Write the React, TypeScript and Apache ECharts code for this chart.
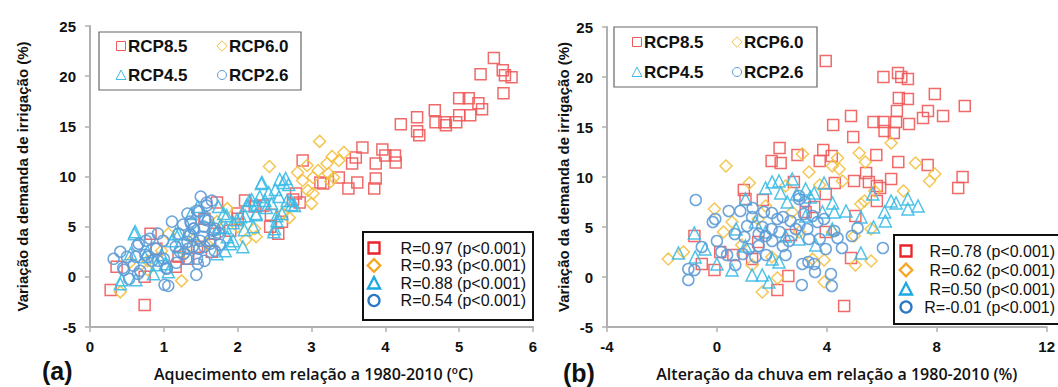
import React, { useEffect, useRef } from "react";
import * as echarts from "echarts";

const scenarioNames = ["RCP8.5", "RCP6.0", "RCP4.5", "RCP2.6"];
const scatterColors = ["#f05a5a", "#f3c040", "#3cbbe6", "#5e9bd6"];
const legendColors = ["#e8262a", "#f5a623", "#1ba9e0", "#2b78c4"];
const corrA = ["R=0.97 (p<0.001)", "R=0.93 (p<0.001)", "R=0.88 (p<0.001)", "R=0.54 (p<0.001)"];
const corrB = ["R=0.78 (p<0.001)", "R=0.62 (p<0.001)", "R=0.50 (p<0.001)", "R=-0.01 (p<0.001)"];
const yTicks = [-5, 0, 5, 10, 15, 20, 25];
const xTicksA = [0, 1, 2, 3, 4, 5, 6];
const xTicksB = [-4, 0, 4, 8, 12];
const titleY = "Variação da demanda de irrigação (%)";
const titleXA = "Aquecimento em relação a 1980-2010 (ºC)";
const titleXB = "Alteração da chuva em relação a 1980-2010 (%)";

// Panel (a): warming (ºC) vs change of irrigation demand (%)
const a85 = [
  [0.28, -1.3], [0.74, -2.8], [0.36, 1.0], [0.82, 4.3], [0.74, 0], [1.16, 1.0], [1.33, 1.8],
  [1.72, 7.4], [1.69, 4.3], [2.0, 6.3], [2.1, 7.6], [2.23, 7.0], [2.44, 5.0], [2.55, 4.3],
  [2.79, 8.3], [2.84, 7.4], [2.88, 11.6], [3.12, 9.4], [3.16, 9.3], [3.37, 9.9], [3.5, 8.8],
  [3.55, 11.3], [3.6, 11.9], [3.62, 9.4], [3.69, 12.9], [3.87, 11.3], [3.87, 9.8], [3.85, 8.8],
  [3.96, 12.7], [4.0, 12.1], [4.13, 12.1], [4.14, 11.4], [4.21, 15.2], [4.43, 15.9], [4.43, 14.5],
  [4.46, 14.1], [4.67, 16.6], [4.68, 15.4], [4.8, 15.4], [4.82, 15.1], [4.96, 15.4], [5.0, 17.8],
  [5.0, 16.1], [5.13, 17.8], [5.15, 16.1], [5.26, 17.3], [5.31, 16.7], [5.29, 20.2], [5.47, 21.8],
  [5.59, 20.6], [5.62, 20.1], [5.71, 19.9], [5.6, 18.3], [0.9, 2.8], [1.45, 3.0], [1.65, 2.5],
  [1.2, 2.0], [1.55, 5.8], [1.9, 4.6], [2.0, 5.8], [2.45, 6.2], [2.6, 5.5], [2.35, 7.1], [2.75, 7.7]
];
const a60 = [
  [0.41, -1.5], [1.24, -0.4], [0.78, 0.7], [1.06, 4.3], [0.97, 2.6], [1.4, 3.7], [1.86, 6.8],
  [2.25, 4.0], [2.11, 3.7], [2.0, 5.0], [2.43, 11.0], [2.7, 5.9], [2.81, 10.4], [2.94, 11.1],
  [2.95, 8.6], [3.0, 7.3], [3.02, 8.3], [3.11, 13.5], [3.09, 10.6], [3.21, 11.3], [3.23, 10.3],
  [3.28, 12.0], [3.3, 9.9], [3.37, 11.6], [3.44, 12.4], [3.26, 9.5], [2.88, 9.6], [2.23, 4.8],
  [1.72, 5.5], [0.78, 1.6], [1.58, 3.3], [2.61, 6.3], [3.02, 9.9], [1.3, 2.4], [0.55, 1.5]
];
const a45 = [
  [0.6, 4.3], [0.41, -0.7], [0.62, -0.3], [0.86, 0.3], [1.06, 0.5], [0.55, 2.3], [0.74, 2.0],
  [0.97, 2.2], [1.2, 3.0], [1.16, 4.3], [1.37, 6.3], [1.46, 7.0], [1.58, 6.0], [1.72, 2.3],
  [1.76, 5.0], [1.86, 4.0], [1.9, 3.3], [2.07, 3.0], [2.04, 6.0], [2.09, 4.7], [2.21, 5.0],
  [2.25, 6.3], [2.32, 9.3], [2.37, 7.6], [2.42, 8.4], [2.46, 7.3], [2.51, 8.7], [2.56, 8.0],
  [2.49, 4.5], [2.6, 6.3], [2.62, 9.4], [2.65, 9.8], [2.67, 7.6], [2.72, 7.6], [2.77, 7.1],
  [2.16, 7.6], [1.81, 6.3], [1.02, 1.3], [0.78, 2.5], [1.39, 4.3], [0.61, 4.5], [0.43, -0.3],
  [0.9, 1.2], [1.2, 4.3], [1.11, 3.6], [1.74, 7.0], [1.85, 6.1], [1.94, 5.4], [1.94, 3.6],
  [2.33, 9.4], [2.57, 9.7], [2.69, 9.2], [2.3, 8.0], [2.19, 7.7], [2.12, 7.1], [2.26, 7.2],
  [2.39, 6.9], [2.73, 7.2], [2.1, 6.1], [2.25, 6.2], [2.53, 6.1], [1.99, 5.7], [1.84, 4.9],
  [1.68, 4.8], [1.83, 2.6], [2.5, 4.8], [2.53, 5.6]
];
const a26 = [
  [0.32, 1.8], [0.41, 2.5], [0.46, 0.7], [0.53, -0.2], [0.62, 2.0], [0.64, 3.1], [0.65, 0.3],
  [0.76, 3.6], [0.78, 2.0], [0.9, 2.8], [0.92, 4.3], [0.99, 3.6], [1.0, 1.8], [1.01, -0.8],
  [1.06, -0.9], [1.04, 0.8], [1.11, 5.5], [1.16, 3.0], [1.2, 4.3], [1.27, 2.3], [1.32, 6.3],
  [1.34, 4.1], [1.37, 5.3], [1.39, 3.0], [1.41, 4.8], [1.44, 0.2], [1.46, 1.3], [1.48, 2.8],
  [1.48, 6.5], [1.5, 8.0], [1.53, 4.0], [1.55, 1.6], [1.58, 7.1], [1.6, 5.6], [1.62, 3.6],
  [1.65, 7.6], [1.67, 4.6], [1.55, 3.0], [1.32, 3.5], [1.76, 3.2], [0.92, 1.6], [1.58, 7.4],
  [1.45, 6.6], [1.56, 5.7], [1.26, 5.2], [1.36, 5.5], [1.4, 4.8], [1.54, 5.0], [0.81, 3.8],
  [0.66, 3.3], [0.5, 2.0], [0.75, 2.2], [1.22, 2.5], [1.33, 2.8], [1.36, 4.2], [1.49, 3.6],
  [1.45, 1.8], [1.69, 2.6], [0.45, 0.9], [0.68, 0.6], [1.04, 0.9], [0.59, 1.1], [0.84, 1.6],
  [1.17, 1.4], [1.31, 1.8], [1.63, 3.3], [1.74, 4.4], [1.69, 4.8]
];

// Panel (b): rainfall change (%) vs change of irrigation demand (%)
const b85 = [
  [3.96, 21.6], [6.06, 20.0], [6.59, 20.4], [6.71, 20.0], [6.95, 19.8], [7.93, 18.3], [9.02, 17.1],
  [6.62, 17.9], [6.95, 17.8], [4.88, 16.1], [4.23, 15.2], [4.96, 14.0], [5.7, 15.5], [6.06, 15.5],
  [6.1, 14.6], [6.44, 14.4], [6.52, 15.5], [6.55, 16.6], [6.99, 15.3], [7.5, 15.9], [7.68, 16.6],
  [8.23, 16.1], [2.28, 12.9], [2.93, 12.2], [3.87, 12.7], [4.18, 12.1], [3.74, 11.6], [1.99, 11.6],
  [2.32, 11.4], [5.8, 12.2], [6.6, 11.5], [7.67, 11.2], [5.43, 10.4], [5.53, 9.5], [4.99, 9.6],
  [4.29, 9.4], [6.34, 9.8], [5.82, 9.1], [5.94, 8.9], [5.82, 7.6], [8.94, 10.0], [8.78, 8.9],
  [2.8, 9.5], [1.67, 7.7], [0.98, 8.7], [1.04, 7.8], [3.96, 8.3], [3.54, 7.0], [5.04, 6.1],
  [-0.82, 4.1], [4.88, 1.9], [-0.55, 1.3], [-0.09, 0.7], [0.12, 2.5], [2.6, 0.1], [2.2, -1.3],
  [4.63, -2.9], [1.28, 1.8], [3.96, 4.5], [3.23, 6.5], [1.5, 3.5], [2.7, 4.2], [0.6, 2.2]
];
const b60 = [
  [-1.77, 1.8], [0.33, 11.1], [-0.09, 6.8], [1.18, 9.4], [3.11, 12.3], [3.35, 10.5], [3.74, 9.2],
  [4.39, 11.9], [4.45, 10.8], [4.57, 9.6], [5.18, 12.4], [5.4, 11.5], [6.34, 13.4], [7.23, 11.4],
  [7.74, 9.6], [7.93, 10.3], [6.79, 8.6], [5.74, 8.6], [5.37, 7.6], [5.24, 7.3], [5.61, 4.8],
  [5.61, 1.6], [5.04, 1.2], [3.9, 1.7], [3.9, -0.5], [1.65, -1.5], [2.2, -0.1], [0.24, 4.5],
  [0.55, 5.5], [2.5, 9.1], [4.2, 11.1], [1.77, 7.1], [2.74, 6.5], [4.2, 4.5], [3.48, 1.8],
  [1.28, 1.2], [-1.22, 2.5], [5.0, 4.1], [3.0, 4.5], [0.9, 3.2], [2.0, 2.0], [1.5, 5.8]
];
const b45 = [
  [-1.4, 2.4], [-0.82, 4.4], [-0.79, 2.0], [-0.43, 2.8], [0, 1.3], [0.55, 0.7], [1.04, 7.8],
  [1.28, 0.2], [1.77, 8.9], [2.01, 9.5], [2.26, 9.6], [2.74, 9.8], [2.32, 8.4], [2.56, 7.5],
  [3.23, 8.8], [3.54, 8.4], [3.9, 9.4], [4.21, 7.4], [4.27, 6.5], [4.7, 6.6], [5.24, 6.0],
  [5.67, 8.3], [5.7, 5.0], [5.24, 2.4], [6.1, 6.5], [6.13, 5.6], [6.34, 7.6], [6.52, 7.4],
  [6.95, 7.8], [6.95, 6.8], [7.32, 7.1], [1.65, 0.2], [1.89, -0.5], [2.26, 1.5], [3.23, 6.1],
  [3.84, 6.5], [2.5, 4.1], [1.77, 4.5], [2.99, 3.8], [2.01, 1.8], [1.04, 3.1], [4.2, 4.8],
  [1.4, 5.5], [2.9, 8.3], [3.4, 8.0], [0.7, 4.8], [3.6, 3.2]
];
const b26 = [
  [-1.04, -0.3], [-1.04, 0.8], [-0.77, 7.7], [-0.82, 0.7], [-0.55, 3.0], [-0.15, 5.5], [-0.06, 5.8],
  [0, 3.6], [0.43, 6.6], [0.37, 2.2], [0.67, 1.2], [0.65, 4.3], [0.85, 6.6], [0.94, 2.3],
  [1.1, 5.1], [1.28, 6.0], [1.3, 6.9], [1.52, 4.3], [1.52, 3.1], [1.65, 5.0], [1.71, 6.5],
  [1.79, 2.2], [1.99, 4.8], [2.01, 3.6], [2.2, 5.8], [2.28, 4.5], [2.4, 3.1], [2.5, 2.2],
  [2.68, 5.6], [2.87, 4.8], [2.99, 7.8], [2.99, 8.1], [3.09, -0.8], [3.11, 1.3], [3.17, 6.3],
  [3.2, 7.5], [3.29, 4.8], [3.33, 1.5], [3.35, 3.8], [3.54, 1.3], [3.57, 0.5], [3.66, 5.5],
  [3.74, 3.8], [3.9, 5.8], [3.96, 2.8], [4.15, 0.3], [4.18, -0.9], [4.27, 4.6], [4.39, 3.9],
  [4.55, 2.9], [4.91, 4.1], [5.12, 4.9], [6.04, 2.9], [0.16, 2.5], [1.16, 2.8], [2.62, 3.6],
  [2.0, 6.4], [3.48, 6.1], [1.77, 4.1], [1.0, 4.0], [2.4, 6.0], [3.0, 5.2], [1.4, 2.0]
];

const seriesA = [a85, a60, a45, a26];
const seriesB = [b85, b60, b45, b26];
const symbols = ["rect", "diamond", "triangle", "circle"];

function legendIcon(kind: number, cx: number, cy: number, r: number, color: string, lw: number) {
  const style = { fill: "none", stroke: color, lineWidth: lw };
  if (kind === 0) return { type: "rect", shape: { x: cx - r, y: cy - r, width: 2 * r, height: 2 * r }, style };
  if (kind === 1) return { type: "polygon", shape: { points: [[cx, cy - r * 1.15], [cx + r * 1.15, cy], [cx, cy + r * 1.15], [cx - r * 1.15, cy]] }, style };
  if (kind === 2) return { type: "polygon", shape: { points: [[cx, cy - r * 1.1], [cx + r * 1.1, cy + r], [cx - r * 1.1, cy + r]] }, style };
  return { type: "circle", shape: { cx, cy, r }, style };
}

function topLegend(x0: number, y0: number, w: number, h: number, colX: number[], rowY: number[]) {
  const els: any[] = [
    { type: "rect", shape: { x: x0, y: y0, width: w, height: h }, style: { fill: "#fff", stroke: "#666", lineWidth: 1.2 }, z: 10 }
  ];
  scenarioNames.forEach((name, i) => {
    const cx = colX[i % 2];
    const cy = rowY[Math.floor(i / 2)];
    els.push({ ...legendIcon(i, cx, cy, 4.5, scatterColors[i], 1), z: 11 });
    els.push({
      type: "text", x: cx + 7, y: cy, z: 11,
      style: { text: name, fill: "#111", font: "bold 17px 'Liberation Sans', Arial, sans-serif", textVerticalAlign: "middle", textAlign: "left" }
    });
  });
  return els;
}

function corrLegend(x0: number, y0: number, w: number, h: number, iconX: number, textRight: number, rowY: number[], labels: string[]) {
  const els: any[] = [
    { type: "rect", shape: { x: x0, y: y0, width: w, height: h }, style: { fill: "#fff", stroke: "#111", lineWidth: 2 }, z: 10 }
  ];
  labels.forEach((t, i) => {
    els.push({ ...legendIcon(i, iconX, rowY[i], 5.5, legendColors[i], 2.3), z: 11 });
    els.push({
      type: "text", x: textRight, y: rowY[i], z: 11,
      style: { text: t, fill: "#111", font: "16px 'Liberation Sans', Arial, sans-serif", textVerticalAlign: "middle", textAlign: "right" }
    });
  });
  return els;
}

export default function App() {
  const ref = useRef<HTMLDivElement>(null);
  useEffect(() => {
    if (!ref.current) return;
    const chart = echarts.init(ref.current, undefined, { renderer: "svg" });
    const axisCommon = {
      axisLine: { show: true, onZero: false, lineStyle: { color: "#b0b0b0", width: 2 } },
      axisTick: { show: true, length: 5, lineStyle: { color: "#b0b0b0", width: 1.5 } },
      splitLine: { show: false },
      axisLabel: { color: "#111", fontWeight: "bold", fontSize: 15, fontFamily: "'Liberation Sans', Arial, sans-serif" }
    };
    const yAxisBase = (idx: number, gap: number) => ({
      ...axisCommon,
      gridIndex: idx,
      type: "value",
      min: yTicks[0],
      max: yTicks[yTicks.length - 1],
      interval: 5,
      axisLabel: { ...axisCommon.axisLabel, margin: 14 },
      name: titleY,
      nameLocation: "middle",
      nameGap: gap,
      nameTextStyle: { color: "#111", fontWeight: "bold", fontSize: 15, fontFamily: "'Liberation Sans', Arial, sans-serif" }
    });
    const series: any[] = [];
    [seriesA, seriesB].forEach((group, g) => {
      group.forEach((data, i) => {
        series.push({
          type: "scatter",
          name: scenarioNames[i],
          xAxisIndex: g,
          yAxisIndex: g,
          data,
          symbol: symbols[i],
          symbolSize: i === 1 ? 12 : i === 2 ? 12 : 11,
          itemStyle: { color: "rgba(255,255,255,0)", borderColor: scatterColors[i], borderWidth: 1.5, opacity: 0.9 },
          emphasis: { disabled: true },
          z: 2 + i
        });
      });
    });
    chart.setOption({
      animation: false,
      backgroundColor: "#fff",
      grid: [
        { left: 90, top: 26, width: 443, height: 302 },
        { left: 607, top: 27, width: 441, height: 302 }
      ],
      xAxis: [
        {
          ...axisCommon, gridIndex: 0, type: "value", min: xTicksA[0], max: xTicksA[xTicksA.length - 1], interval: 1,
          axisLabel: { ...axisCommon.axisLabel, margin: 12 },
          name: titleXA, nameLocation: "middle", nameGap: 39,
          nameTextStyle: { color: "#111", fontWeight: 600, fontSize: 16, fontFamily: "'Open Sans', sans-serif", padding: [0, 0, 0, 4] }
        },
        {
          ...axisCommon, gridIndex: 1, type: "value", min: xTicksB[0], max: xTicksB[xTicksB.length - 1], interval: 4,
          axisLabel: { ...axisCommon.axisLabel, margin: 12 },
          name: titleXB, nameLocation: "middle", nameGap: 39,
          nameTextStyle: { color: "#111", fontWeight: 600, fontSize: 16, fontFamily: "'Open Sans', sans-serif", padding: [0, 0, 0, 20] }
        }
      ],
      yAxis: [yAxisBase(0, 60), yAxisBase(1, 36)],
      series,
      graphic: [
        ...topLegend(99, 32, 202, 58, [121, 222], [46, 75]),
        ...topLegend(614, 27, 203, 60, [637, 737], [42, 72]),
        ...corrLegend(363, 232, 170, 88, 374, 526, [248, 265.5, 283, 300.5], corrA),
        ...corrLegend(894, 235, 170, 89, 906, 1055, [251, 270, 289, 307], corrB),
        { type: "text", x: 42, y: 371, style: { text: "(a)", fill: "#111", font: "bold 25px 'Liberation Sans', Arial, sans-serif", textVerticalAlign: "middle" } },
        { type: "text", x: 563, y: 373, style: { text: "(b)", fill: "#111", font: "bold 25px 'Liberation Sans', Arial, sans-serif", textVerticalAlign: "middle" } }
      ]
    });
    return () => chart.dispose();
  }, []);
  return <div ref={ref} style={{ position: "absolute", left: 0, top: 0, width: 1058, height: 387 }} />;
}
